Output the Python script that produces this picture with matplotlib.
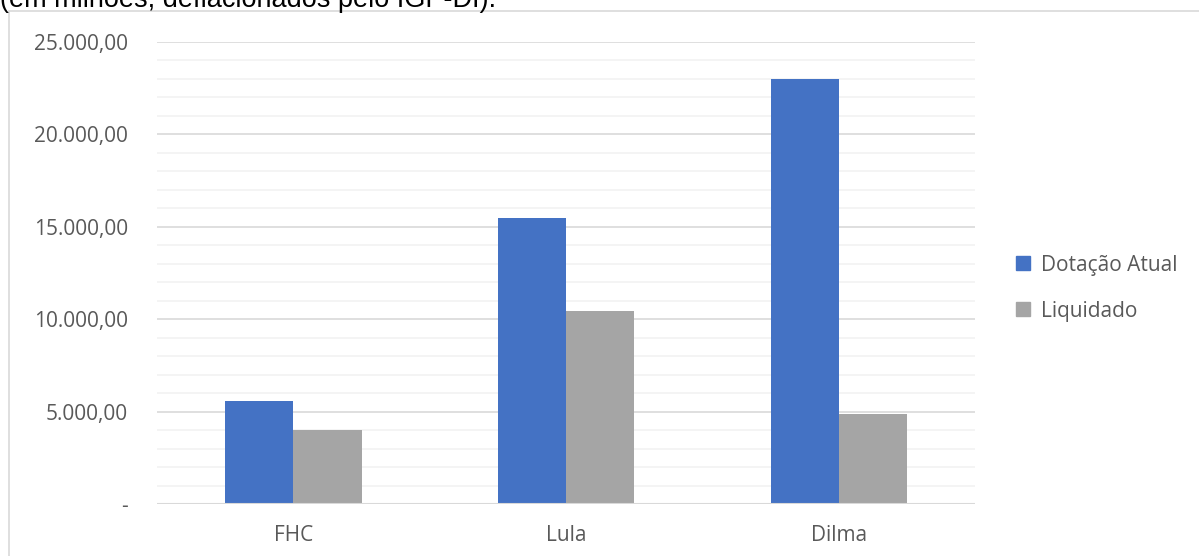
import numpy as np
import matplotlib.pyplot as plt
from matplotlib.patches import Rectangle, Patch

# dados (em milhões)
governos = ['FHC', 'Lula', 'Dilma']
dotacao_atual = [5600, 15480, 23000]
liquidado = [4000, 10440, 4870]
yticks = [0, 5000, 10000, 15000, 20000, 25000]
ytick_labels = ['-', '5.000,00', '10.000,00', '15.000,00', '20.000,00', '25.000,00']

azul = '#4472c4'
cinza = '#a5a5a5'
texto = '#595959'

fig = plt.figure(figsize=(11.99, 5.56), dpi=100)
ax = fig.add_axes([157 / 1199, 1 - 504 / 556, (975 - 157) / 1199, (504 - 42) / 556])

# moldura do grafico
fig.patches.append(Rectangle((9 / 1199, -0.01), 1, 1 - 11 / 556 + 0.01,
                             transform=fig.transFigure, fill=False,
                             edgecolor='#d9d9d9', linewidth=1.2))

# titulo cortado no topo, como no original
fig.text(0.0, 1 - 7 / 556, '(em milhões, deflacionados pelo IGP-DI).',
         fontsize=19.5, family='Liberation Sans', va='baseline', ha='left', color='black')

x = np.arange(len(governos))
w = 0.25
ax.bar(x - w / 2, dotacao_atual, w, color=azul, label='Dotação Atual', zorder=3)
ax.bar(x + w / 2, liquidado, w, color=cinza, label='Liquidado', zorder=3)

ax.set_xlim(-0.5, 2.5)
ax.set_ylim(0, 25000)
ax.set_yticks(yticks)
ax.set_yticklabels(ytick_labels)
ax.set_yticks(np.arange(0, 25001, 1000), minor=True)
ax.set_xticks(x)
ax.set_xticklabels(governos)

ax.grid(axis='y', which='major', color='#d9d9d9', linewidth=1.2, zorder=0)
ax.grid(axis='y', which='minor', color='#f2f2f2', linewidth=1.2, zorder=0)
for s in ax.spines.values():
    s.set_visible(False)
ax.axhline(0, color='#d9d9d9', linewidth=1.5, zorder=4)

ax.tick_params(axis='both', which='both', length=0, labelsize=15, colors=texto, labelfontfamily='Open Sans')
ax.tick_params(axis='y', pad=21)
ax.tick_params(axis='x', pad=15)

handles = [Patch(color=azul), Patch(color=cinza)]
leg = fig.legend(handles, ['Dotação Atual', 'Liquidado'], loc='center left',
                 bbox_to_anchor=(1016 / 1199, 1 - 288 / 556), frameon=False, borderpad=0,
                 borderaxespad=0, prop={'family': 'Open Sans', 'size': 15}, labelcolor=texto,
                 handlelength=0.67, handleheight=0.67, handletextpad=0.55, labelspacing=1.2)

fig.savefig('out.png', dpi=100)
